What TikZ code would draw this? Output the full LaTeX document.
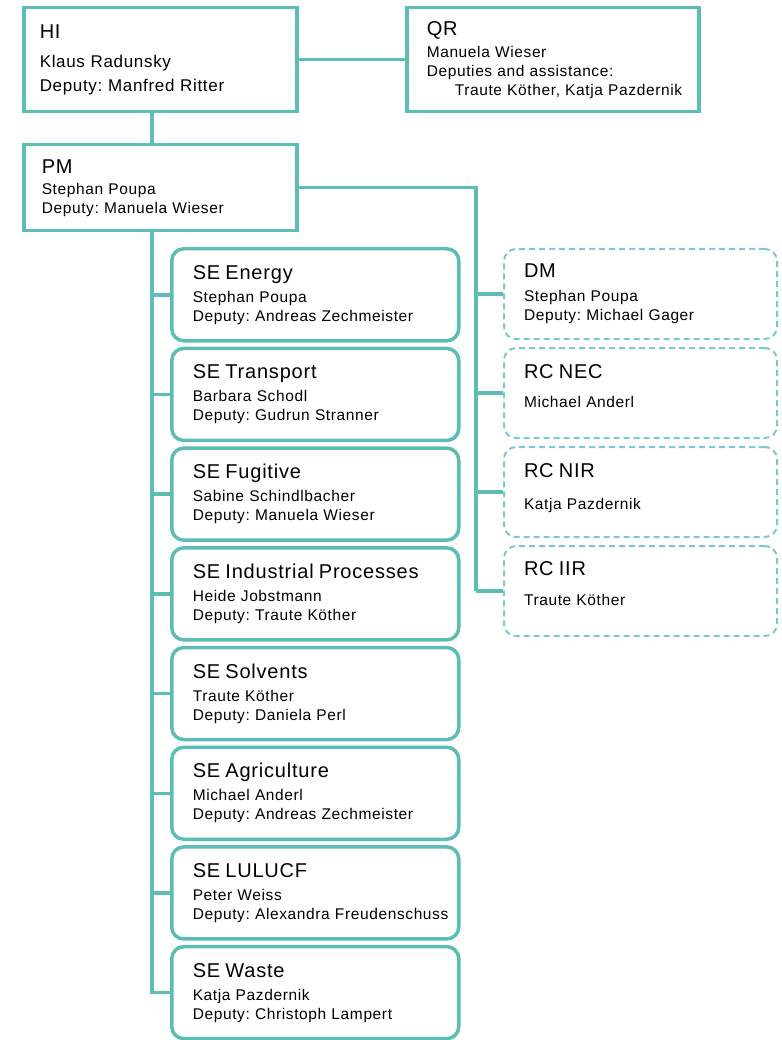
\documentclass[tikz,border=0pt]{standalone}
\usepackage{fontspec}
\setmainfont{Liberation Sans}[LetterSpace=4]
\definecolor{orgteal}{RGB}{91,189,180}
\definecolor{orgblue}{RGB}{125,198,218}
\newcommand{\titlesize}{\fontsize{20}{20}\selectfont}
\newcommand{\namesize}{\fontsize{15.5}{19}\selectfont}

\begin{document}
\frenchspacing
\begin{tikzpicture}[x=1pt,y=-1pt,
	link/.style={draw=orgteal,line width=3.5pt},
	headbox/.style={draw=orgteal,line width=3.5pt,rectangle,anchor=north west,align=left,
		inner xsep=16pt,text width=241pt,minimum height=104pt,font=\fontsize{17}{24}\selectfont},
	sebox/.style={draw=orgteal,line width=3.5pt,rounded corners=12pt,anchor=north west,align=left,
		inner xsep=21pt,text width=245pt,minimum height=92pt,font=\namesize},
	rcbox/.style={draw=orgblue,line width=2pt,dash pattern=on 6pt off 4pt,rounded corners=12pt,
		anchor=north west,align=left,inner xsep=20pt,text width=233pt,minimum height=90pt,font=\namesize}]
		\useasboundingbox (0,0) rectangle (781,1040);
		\coordinate (trunk) at (152,0);
		\coordinate (rtrunk) at (476,0);
		% head and quality
		\node[headbox] (HI) at (22,6) {{\titlesize HI}\\[5pt]Klaus Radunsky\\Deputy: Manfred Ritter};
		\node[headbox,inner xsep=20pt,text width=252pt,font=\namesize] (QR) at (405,6)
			{{\titlesize QR}\\[3pt]Manuela Wieser\\Deputies and assistance:\\\mbox{\hspace*{28pt}Traute Köther, Katja Pazdernik}};
		\node[headbox,inner xsep=18pt,text width=237pt,minimum height=86pt,font=\namesize] (PM) at (22,143)
			{{\titlesize PM}\\[2pt]Stephan Poupa\\Deputy: Manuela Wieser};
		\draw[link] (HI.east) -- (QR.west);
		\draw[link] (HI.south -| trunk) -- (PM.north -| trunk);
		% sector experts
		\foreach \i/\id/\unit/\lead/\dep in {0/energy/Energy/Stephan Poupa/Andreas Zechmeister,
			1/transport/Transport/Barbara Schodl/Gudrun Stranner,
			2/fugitive/Fugitive/Sabine Schindlbacher/Manuela Wieser,
			3/industry/Industrial Processes/Heide Jobstmann/Traute Köther,
			4/solvents/Solvents/Traute Köther/Daniela Perl,
			5/agri/Agriculture/Michael Anderl/Andreas Zechmeister,
			6/lulucf/LULUCF/Peter Weiss/Alexandra Freudenschuss,
			7/waste/Waste/Katja Pazdernik/Christoph Lampert}
		{
		\node[sebox] (\id) at (170,{247+99.7*\i}) {\mbox{\titlesize SE \unit}\\[4pt]\lead\\\mbox{Deputy: \dep}};
		\draw[link] (trunk |- \id.west) -- (\id.west);
		}
		\draw[link] (PM.south -| trunk) |- (waste.west);
		% data and reporting
		\foreach \i/\id/\unit/\gap/\lines/\tail in {0/dm/DM/5pt/{Stephan Poupa\\Deputy: Michael Gager}/0pt,
			1/nec/RC NEC/10pt/{Michael Anderl}/14pt,
			2/nir/RC NIR/13pt/{Katja Pazdernik}/11pt,
			3/iir/RC IIR/11pt/{Traute Köther}/15pt}
		{
		\node[rcbox] (\id) at (503,{248+99*\i}) {{\titlesize \unit}\\[\gap]\lines\rule[-\tail]{0pt}{\tail}};
		\draw[link] (rtrunk |- \id.west) -- (\id.west);
		}
		\draw[link] (PM.east) -| (rtrunk |- iir.west);
	    \end{tikzpicture}
\end{document}
